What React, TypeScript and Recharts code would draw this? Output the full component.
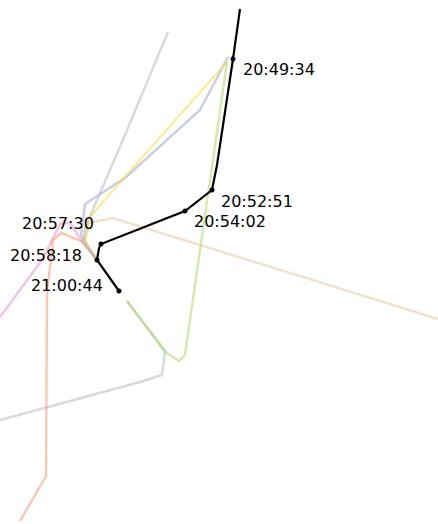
import { LineChart, Line, XAxis, YAxis, LabelList } from 'recharts'

// values, on a 438 x 524 plane
const trackX = [240, 233, 217, 212, 185, 101, 99, 97, 119]
const trackY = [9, 59, 165, 190, 211, 244, 248, 260, 291]

const fixX = [233, 212, 185, 101, 97, 119]
const fixY = [59, 190, 211, 244, 260, 291]

const labelTimes = ['20:49:34', '20:52:51', '20:54:02', '20:57:30', '20:58:18', '21:00:44']
const labelX = [243, 221, 194, 22, 10, 31]
const labelY = [69, 201, 221, 223, 255, 285]

const greyAX = [168, 122, 85, 83, 97]
const greyAY = [32, 142, 228, 242, 260]
const greyBX = [127, 165, 162, 140, 0]
const greyBY = [301, 352, 375, 382, 420]

const greenX = [127, 167, 179, 185, 227]
const greenY = [301, 353, 361, 355, 62]

const yellowX = [227, 122, 90, 85, 97]
const yellowY = [62, 180, 217, 243, 260]

const blueX = [228, 200, 125, 85, 81, 97]
const blueY = [57, 110, 178, 204, 235, 260]

const peachX = [438, 113, 88, 84, 97]
const peachY = [319, 218, 223, 242, 260]

const pinkX = [0, 42, 53, 61, 70, 83, 97]
const pinkY = [317, 260, 238, 223, 223, 243, 260]

const salmonX = [20, 46, 47, 51, 53, 61, 83, 97]
const salmonY = [521, 476, 290, 260, 240, 233, 242, 260]

const zip = (xs: number[], ys: number[]) => xs.map((x, i) => ({ x, y: ys[i] }))

// drawn in this order, the later ones sit on top where the paths share a stretch
const faded = [
  { id: 'pink', color: '#e78ac3', data: zip(pinkX, pinkY) },
  { id: 'salmon', color: '#fc8d62', data: zip(salmonX, salmonY) },
  { id: 'greyB', color: '#b3b3b3', data: zip(greyBX, greyBY) },
  { id: 'green', color: '#a6d854', data: zip(greenX, greenY) },
  { id: 'blue', color: '#8da0cb', data: zip(blueX, blueY) },
  { id: 'yellow', color: '#ffd92f', data: zip(yellowX, yellowY) },
  { id: 'peach', color: '#e5c494', data: zip(peachX, peachY) },
  { id: 'greyA', color: '#b3b3b3', data: zip(greyAX, greyAY) },
]

const track = zip(trackX, trackY)
const fixes = zip(fixX, fixY)
const labels = labelTimes.map((time, i) => ({ x: labelX[i], y: labelY[i], time }))

function TimeLabel(props: any) {
  return (
    <text x={props.x} y={props.y} dy="0.36em" fontFamily="DejaVu Sans" fontSize={16} fill="#000">
      {props.value}
    </text>
  )
}

export default function App() {
  return (
    <div style={{ position: 'absolute', left: 0, top: 0, width: 438, height: 524, background: '#fff' }}>
      <LineChart width={438} height={524} margin={{ top: 0, right: 0, bottom: 0, left: 0 }}>
        <XAxis type="number" dataKey="x" domain={[0, 438]} hide allowDataOverflow allowDuplicatedCategory={false} />
        <YAxis type="number" dataKey="y" domain={[0, 524]} reversed hide allowDataOverflow />
        {faded.map((s) => (
          <Line key={s.id} data={s.data} dataKey="y" stroke={s.color} strokeOpacity={0.5} strokeWidth={2.4} dot={false} activeDot={false} isAnimationActive={false} />
        ))}
        <Line data={track} dataKey="y" stroke="#000" strokeWidth={2.2} dot={false} activeDot={false} isAnimationActive={false} />
        <Line data={fixes} dataKey="y" stroke="none" dot={{ r: 2.3, fill: '#000', stroke: '#000', strokeWidth: 0.5 }} activeDot={false} isAnimationActive={false} />
        <Line data={labels} dataKey="y" stroke="none" dot={false} activeDot={false} isAnimationActive={false}>
          <LabelList dataKey="time" content={TimeLabel} />
        </Line>
      </LineChart>
    </div>
  )
}
